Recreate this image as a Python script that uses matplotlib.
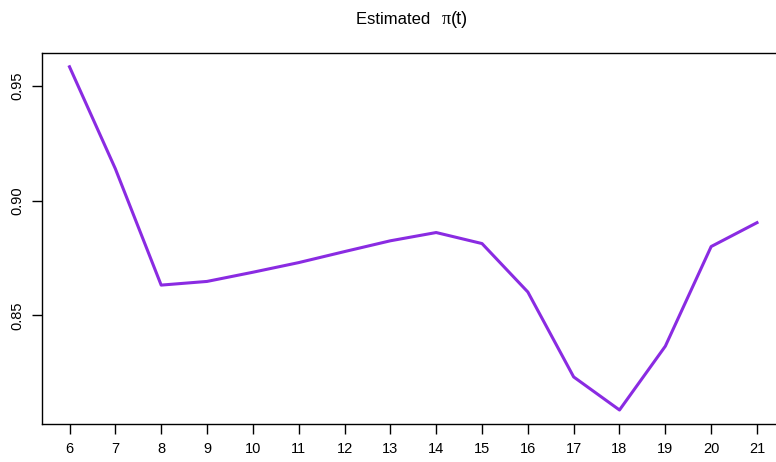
import matplotlib
matplotlib.use("Agg")
import matplotlib.pyplot as plt

# Données
t = [6, 7, 8, 9, 10, 11, 12, 13, 14, 15, 16, 17, 18, 19, 20, 21]
pi_t = [0.9583, 0.9139, 0.8632, 0.8648, 0.8688, 0.8730, 0.8778, 0.8825,
        0.8861, 0.8813, 0.8602, 0.8232, 0.8088, 0.8366, 0.8800, 0.8904]
y_ticks = [0.85, 0.90, 0.95]

plt.rcParams["font.family"] = ["Liberation Sans", "DejaVu Sans"]

fig = plt.figure(figsize=(7.76, 4.62), dpi=100)
W, H = 776, 462
ax = fig.add_axes([42 / W, (H - 424) / H, (784.5 - 42) / W, (424 - 53) / H])

ax.plot(t, pi_t, color="#8A2BE2", linewidth=2.2)

ax.set_xlim(5.4, 21.6)
ax.set_ylim(0.8027, 0.9643)
ax.set_xticks(t)
ax.set_xticklabels([str(v) for v in t])
ax.set_yticks(y_ticks)
ax.set_yticklabels([f"{v:.2f}" for v in y_ticks], rotation=90, va="center")

ax.tick_params(direction="out", length=7, width=1, labelsize=10.5, pad=6)
for s in ax.spines.values():
    s.set_linewidth(1)
    s.set_color("black")

# Titre : π dans une police à empattements, comme l'original
ty = 1 - 20 / H
fig.text(440 / W, ty, "Estimated  ", ha="right", va="center", fontsize=12)
fig.text(442 / W, ty, "π", ha="left", va="center", fontsize=13,
         family="Liberation Serif")
fig.text(451 / W, ty, "(t)", ha="left", va="center", fontsize=13)

fig.savefig("out.png", dpi=100)
